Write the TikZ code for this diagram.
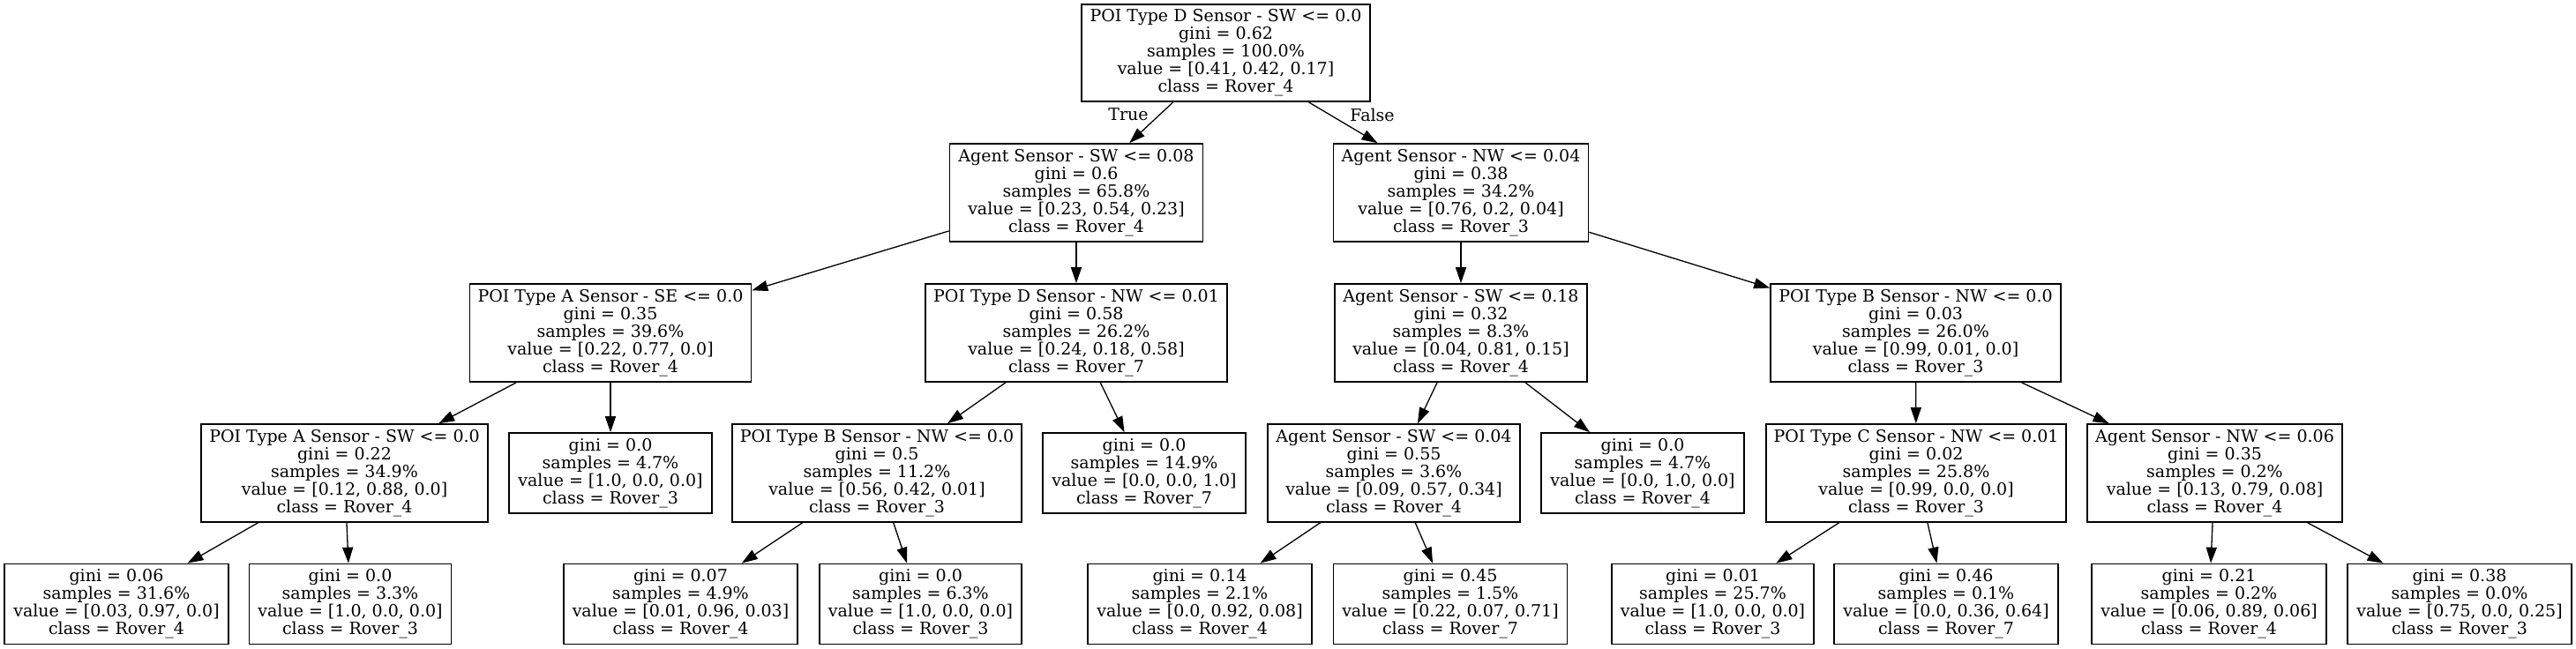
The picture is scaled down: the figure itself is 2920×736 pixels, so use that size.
\documentclass[tikz,border=0pt]{standalone}
\usepackage{fontspec}
\setmainfont{DejaVu Serif}
\usetikzlibrary{arrows.meta}
\tikzset{
  box/.style={draw=black, line width=1.6pt, inner sep=0pt, align=center,
    font=\fontsize{19}{20}\selectfont, minimum height=#1},
  split/.style={box=111pt},
  leaf/.style={box=91pt},
  edge/.style={line width=1.3pt, -{Triangle[length=18pt,width=12pt]}},
  elabel/.style={font=\fontsize{19}{20}\selectfont, inner sep=0pt}
}
\begin{document}
\begin{tikzpicture}[x=1pt,y=-1pt]
\useasboundingbox (0,0) rectangle (2920,736);
% level 0
\node[split, minimum width=327pt, minimum height=110pt] (root) at (1389.5,60) {POI Type D Sensor - SW <= 0.0\\gini = 0.62\\samples = 100.0\%\\value = [0.41, 0.42, 0.17]\\class = Rover\_4};
% level 1
\node[split, minimum width=287pt] (A) at (1220,218.5) {Agent Sensor - SW <= 0.08\\gini = 0.6\\samples = 65.8\%\\value = [0.23, 0.54, 0.23]\\class = Rover\_4};
\node[split, minimum width=289pt] (B) at (1656,218.5) {Agent Sensor - NW <= 0.04\\gini = 0.38\\samples = 34.2\%\\value = [0.76, 0.2, 0.04]\\class = Rover\_3};
% level 2
\node[split, minimum width=319pt] (C) at (692,377.5) {POI Type A Sensor - SE <= 0.0\\gini = 0.35\\samples = 39.6\%\\value = [0.22, 0.77, 0.0]\\class = Rover\_4};
\node[split, minimum width=342pt] (D) at (1220,377.5) {POI Type D Sensor - NW <= 0.01\\gini = 0.58\\samples = 26.2\%\\value = [0.24, 0.18, 0.58]\\class = Rover\_7};
\node[split, minimum width=286pt] (E) at (1656,377.5) {Agent Sensor - SW <= 0.18\\gini = 0.32\\samples = 8.3\%\\value = [0.04, 0.81, 0.15]\\class = Rover\_4};
\node[split, minimum width=329pt] (F) at (2171.5,377.5) {POI Type B Sensor - NW <= 0.0\\gini = 0.03\\samples = 26.0\%\\value = [0.99, 0.01, 0.0]\\class = Rover\_3};
% level 3
\node[split, minimum width=325pt] (G) at (390.5,536.5) {POI Type A Sensor - SW <= 0.0\\gini = 0.22\\samples = 34.9\%\\value = [0.12, 0.88, 0.0]\\class = Rover\_4};
\node[leaf, minimum width=230pt] (H) at (692,536.5) {gini = 0.0\\samples = 4.7\%\\value = [1.0, 0.0, 0.0]\\class = Rover\_3};
\node[split, minimum width=328pt] (I) at (994,536.5) {POI Type B Sensor - NW <= 0.0\\gini = 0.5\\samples = 11.2\%\\value = [0.56, 0.42, 0.01]\\class = Rover\_3};
\node[leaf, minimum width=230pt] (J) at (1297,536.5) {gini = 0.0\\samples = 14.9\%\\value = [0.0, 0.0, 1.0]\\class = Rover\_7};
\node[split, minimum width=286pt] (K) at (1580,536.5) {Agent Sensor - SW <= 0.04\\gini = 0.55\\samples = 3.6\%\\value = [0.09, 0.57, 0.34]\\class = Rover\_4};
\node[leaf, minimum width=230pt] (L) at (1862,536.5) {gini = 0.0\\samples = 4.7\%\\value = [0.0, 1.0, 0.0]\\class = Rover\_4};
\node[split, minimum width=340pt] (M) at (2172,536.5) {POI Type C Sensor - NW <= 0.01\\gini = 0.02\\samples = 25.8\%\\value = [0.99, 0.0, 0.0]\\class = Rover\_3};
\node[split, minimum width=289pt] (N) at (2510.5,536.5) {Agent Sensor - NW <= 0.06\\gini = 0.35\\samples = 0.2\%\\value = [0.13, 0.79, 0.08]\\class = Rover\_4};
% level 4
\node[leaf, minimum width=254pt] (O) at (132,685) {gini = 0.06\\samples = 31.6\%\\value = [0.03, 0.97, 0.0]\\class = Rover\_4};
\node[leaf, minimum width=229pt] (P) at (397,685) {gini = 0.0\\samples = 3.3\%\\value = [1.0, 0.0, 0.0]\\class = Rover\_3};
\node[leaf, minimum width=265pt] (Q) at (771.5,685) {gini = 0.07\\samples = 4.9\%\\value = [0.01, 0.96, 0.03]\\class = Rover\_4};
\node[leaf, minimum width=229pt] (R) at (1043.5,685) {gini = 0.0\\samples = 6.3\%\\value = [1.0, 0.0, 0.0]\\class = Rover\_3};
\node[leaf, minimum width=254pt] (S) at (1360,685) {gini = 0.14\\samples = 2.1\%\\value = [0.0, 0.92, 0.08]\\class = Rover\_4};
\node[leaf, minimum width=265pt] (T) at (1644,685) {gini = 0.45\\samples = 1.5\%\\value = [0.22, 0.07, 0.71]\\class = Rover\_7};
\node[leaf, minimum width=229pt] (U) at (1941.5,685) {gini = 0.01\\samples = 25.7\%\\value = [1.0, 0.0, 0.0]\\class = Rover\_3};
\node[leaf, minimum width=254pt] (V) at (2206,685) {gini = 0.46\\samples = 0.1\%\\value = [0.0, 0.36, 0.64]\\class = Rover\_7};
\node[leaf, minimum width=266pt] (W) at (2504,685) {gini = 0.21\\samples = 0.2\%\\value = [0.06, 0.89, 0.06]\\class = Rover\_4};
\node[leaf, minimum width=254pt] (X) at (2788,685) {gini = 0.38\\samples = 0.0\%\\value = [0.75, 0.0, 0.25]\\class = Rover\_3};
% labels
\node[elabel] (tl) at (1279,130) {True};
\node[elabel] (fl) at (1555.5,130) {False};
% edges
\foreach \p/\c in {root/A, root/B, A/C, A/D, B/E, B/F, C/G, C/H, D/I, D/J, E/K, E/L, F/M, F/N, G/O, G/P, I/Q, I/R, K/S, K/T, M/U, M/V, N/W, N/X}
  \draw[edge] (\p) -- (\c);
\end{tikzpicture}
\end{document}
